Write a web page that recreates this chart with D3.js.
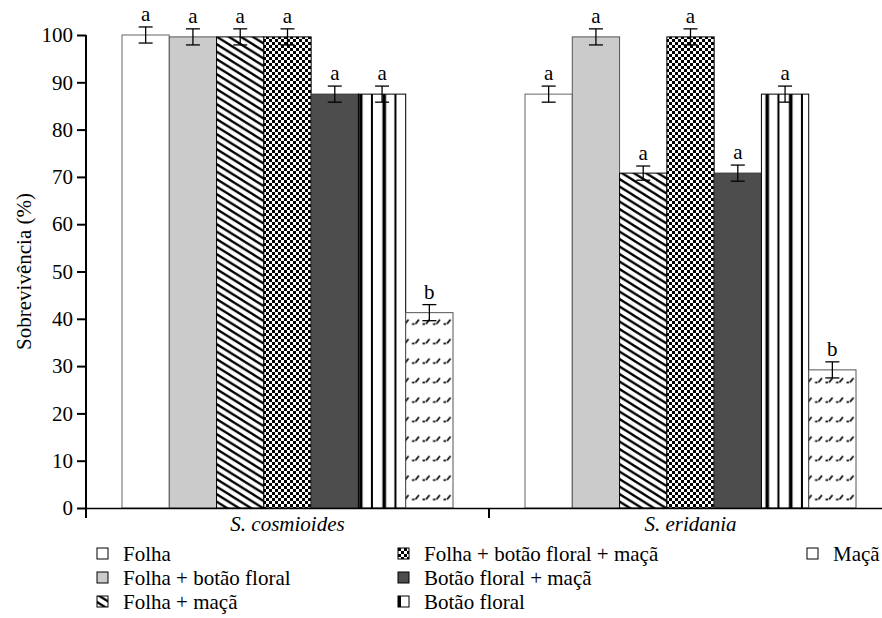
<!DOCTYPE html>
<html><head><meta charset="utf-8">
<script src="https://cdn.jsdelivr.net/npm/d3@7"></script>
<style>
body{margin:0;background:#fff;}
svg text{font-family:"Liberation Serif","Times New Roman",Times,"DejaVu Serif",serif !important;}
</style></head>
<body><svg id="chart" width="882" height="618"></svg>
<script>
const species = ["S. cosmioides", "S. eridania"];
const treatments = ["Folha", "Folha + botão floral", "Folha + maçã", "Folha + botão floral + maçã", "Botão floral + maçã", "Botão floral", "Maçã"];
const valuesCosmioides = [100, 99.6, 99.6, 99.6, 87.5, 87.5, 41.3];
const valuesEridania = [87.5, 99.6, 70.8, 99.6, 70.8, 87.5, 29.2];
const errCosmioides = [1.7, 1.7, 1.7, 1.7, 1.7, 1.7, 1.7];
const errEridania = [1.7, 1.7, 1.5, 1.7, 1.7, 1.7, 1.7];
const lettersCosmioides = ["a", "a", "a", "a", "a", "a", "b"];
const lettersEridania = ["a", "a", "a", "a", "a", "a", "b"];
const yTicks = [0, 10, 20, 30, 40, 50, 60, 70, 80, 90, 100];
const yTitle = "Sobrevivência (%)";
const legendCols = [
  ["Folha", "Folha + botão floral", "Folha + maçã"],
  ["Folha + botão floral + maçã", "Botão floral + maçã", "Botão floral"],
  ["Maçã"]
];

const series = [
  {sp: species[0], vals: valuesCosmioides, errs: errCosmioides, letters: lettersCosmioides},
  {sp: species[1], vals: valuesEridania, errs: errEridania, letters: lettersEridania}
];

const svg = d3.select("#chart");
const FS = 21;
const y = d3.scaleLinear().domain([0, 100]).range([508, 35]);
const x0 = d3.scaleBand().domain(species).range([86, 892]).paddingInner(0).paddingOuter(0);
const x1 = d3.scaleBand().domain(treatments).range([36, x0.bandwidth() - 36]);

const defs = svg.append("defs");
{
  const p = defs.append("pattern").attr("id", "p-fm").attr("patternUnits", "userSpaceOnUse")
    .attr("width", 12).attr("height", 7.5);
  p.append("rect").attr("width", 12).attr("height", 7.5).attr("fill", "#fff");
  p.append("path").attr("d", "M-6,-3.75 L18,11.25 M-6,3.75 L6,11.25 M6,-3.75 L18,3.75")
    .attr("stroke", "#000").attr("stroke-width", 2.3);
}
{
  const p = defs.append("pattern").attr("id", "p-fbfm").attr("patternUnits", "userSpaceOnUse")
    .attr("width", 6).attr("height", 6);
  p.append("rect").attr("width", 6).attr("height", 6).attr("fill", "#fff");
  p.append("rect").attr("width", 3).attr("height", 3).attr("fill", "#000");
  p.append("rect").attr("x", 3).attr("y", 3).attr("width", 3).attr("height", 3).attr("fill", "#000");
}
series.forEach((s, gi) => {
  const p = defs.append("pattern").attr("id", "p-bf" + gi).attr("patternUnits", "userSpaceOnUse")
    .attr("x", x0(s.sp) + x1("Botão floral")).attr("width", 23.5).attr("height", 10);
  p.append("rect").attr("width", 23.5).attr("height", 10).attr("fill", "#fff");
  p.append("rect").attr("x", 8.5).attr("width", 3.6).attr("height", 10).attr("fill", "#000");
  p.append("rect").attr("x", 20.5).attr("width", 2).attr("height", 10).attr("fill", "#000");
});
{
  const p = defs.append("pattern").attr("id", "p-maca").attr("patternUnits", "userSpaceOnUse")
    .attr("width", 10.5).attr("height", 19.5);
  p.append("rect").attr("width", 10.5).attr("height", 19.5).attr("fill", "#fff");
  p.append("path").attr("d", "M0.5,12 L3,12 M4,12 L7.5,7.5")
    .attr("stroke", "#000").attr("stroke-width", 1.7).attr("fill", "none");
}

const styles = {
  "Folha": {fill: "#fff", stroke: "#666"},
  "Folha + botão floral": {fill: "#cbcbcb", stroke: "#555"},
  "Folha + maçã": {fill: "url(#p-fm)", stroke: "#000"},
  "Folha + botão floral + maçã": {fill: "url(#p-fbfm)", stroke: "#000"},
  "Botão floral + maçã": {fill: "#4d4d4d", stroke: "#333"},
  "Botão floral": {fill: null, stroke: "#000"},
  "Maçã": {fill: "url(#p-maca)", stroke: "#555"}
};

series.forEach((s, gi) => {
  const g = svg.append("g").attr("transform", `translate(${x0(s.sp)},0)`);
  const data = treatments.map((t, i) => ({t, v: s.vals[i], e: s.errs[i], l: s.letters[i]}));
  g.selectAll("rect.bar").data(data).join("rect").attr("class", "bar")
    .attr("x", d => x1(d.t)).attr("width", x1.bandwidth())
    .attr("y", d => y(d.v)).attr("height", d => y(0) - y(d.v))
    .attr("fill", d => d.t === "Botão floral" ? `url(#p-bf${gi})` : styles[d.t].fill)
    .attr("stroke", d => styles[d.t].stroke).attr("stroke-width", 1);
  const eb = g.selectAll("g.err").data(data).join("g").attr("class", "err")
    .attr("transform", d => `translate(${x1(d.t) + x1.bandwidth() / 2},0)`);
  eb.append("line").attr("y1", d => y(d.v - d.e)).attr("y2", d => y(d.v + d.e))
    .attr("stroke", "#000").attr("stroke-width", 1.3);
  eb.append("line").attr("x1", -7).attr("x2", 7).attr("y1", d => y(d.v + d.e)).attr("y2", d => y(d.v + d.e))
    .attr("stroke", "#000").attr("stroke-width", 1.3);
  eb.append("line").attr("x1", -7).attr("x2", 7).attr("y1", d => y(d.v - d.e)).attr("y2", d => y(d.v - d.e))
    .attr("stroke", "#000").attr("stroke-width", 1.3);
  eb.append("text").attr("y", d => y(d.v + d.e) - 6).attr("text-anchor", "middle")
    .attr("font-size", FS).attr("fill", "#000").text(d => d.l);
});

const yAxis = svg.append("g").attr("transform", "translate(86,0)")
  .call(d3.axisLeft(y).tickValues(yTicks).tickSize(9).tickPadding(4).tickSizeOuter(0));
yAxis.select(".domain").attr("stroke", "#000").attr("stroke-width", 2).attr("d", "M0,35V518");
yAxis.selectAll(".tick line").attr("stroke", "#000").attr("stroke-width", 2);
yAxis.selectAll(".tick text").attr("font-size", FS).attr("fill", "#000");

const xAxis = svg.append("g").attr("transform", "translate(0,508)")
  .call(d3.axisBottom(x0).tickSize(0).tickPadding(8).tickSizeOuter(0));
xAxis.select(".domain").attr("stroke", "#000").attr("stroke-width", 1.6);
xAxis.selectAll(".tick text").attr("font-size", FS).attr("font-style", "italic").attr("fill", "#000");
const bounds = [x0.range()[0], x0(species[1]), x0.range()[1]];
svg.append("g").selectAll("line").data(bounds).join("line")
  .attr("x1", d => d).attr("x2", d => d).attr("y1", 508).attr("y2", 518)
  .attr("stroke", "#000").attr("stroke-width", 2);

svg.append("text").attr("transform", `translate(24,${(y(0) + y(100)) / 2}) rotate(-90)`)
  .attr("text-anchor", "middle").attr("dy", "0.35em").attr("font-size", FS).text(yTitle);

const colX = [97, 398, 807];
const rowY = [554, 578, 602];
legendCols.forEach((col, ci) => {
  col.forEach((t, ri) => {
    const gx = colX[ci], gy = rowY[ri];
    const lg = svg.append("g").attr("transform", `translate(${gx},${gy})`);
    const st = styles[t];
    lg.append("rect").attr("x", 0).attr("y", -6).attr("width", 11).attr("height", 11)
      .attr("fill", t === "Botão floral" ? "#fff" : st.fill).attr("stroke", "#000").attr("stroke-width", 1);
    if (t === "Botão floral") {
      lg.append("rect").attr("x", 0).attr("y", -6).attr("width", 3).attr("height", 11).attr("fill", "#000");
    }
    lg.append("text").attr("x", 26).attr("dy", "0.35em").attr("font-size", FS).text(t);
  });
});
</script></body></html>
